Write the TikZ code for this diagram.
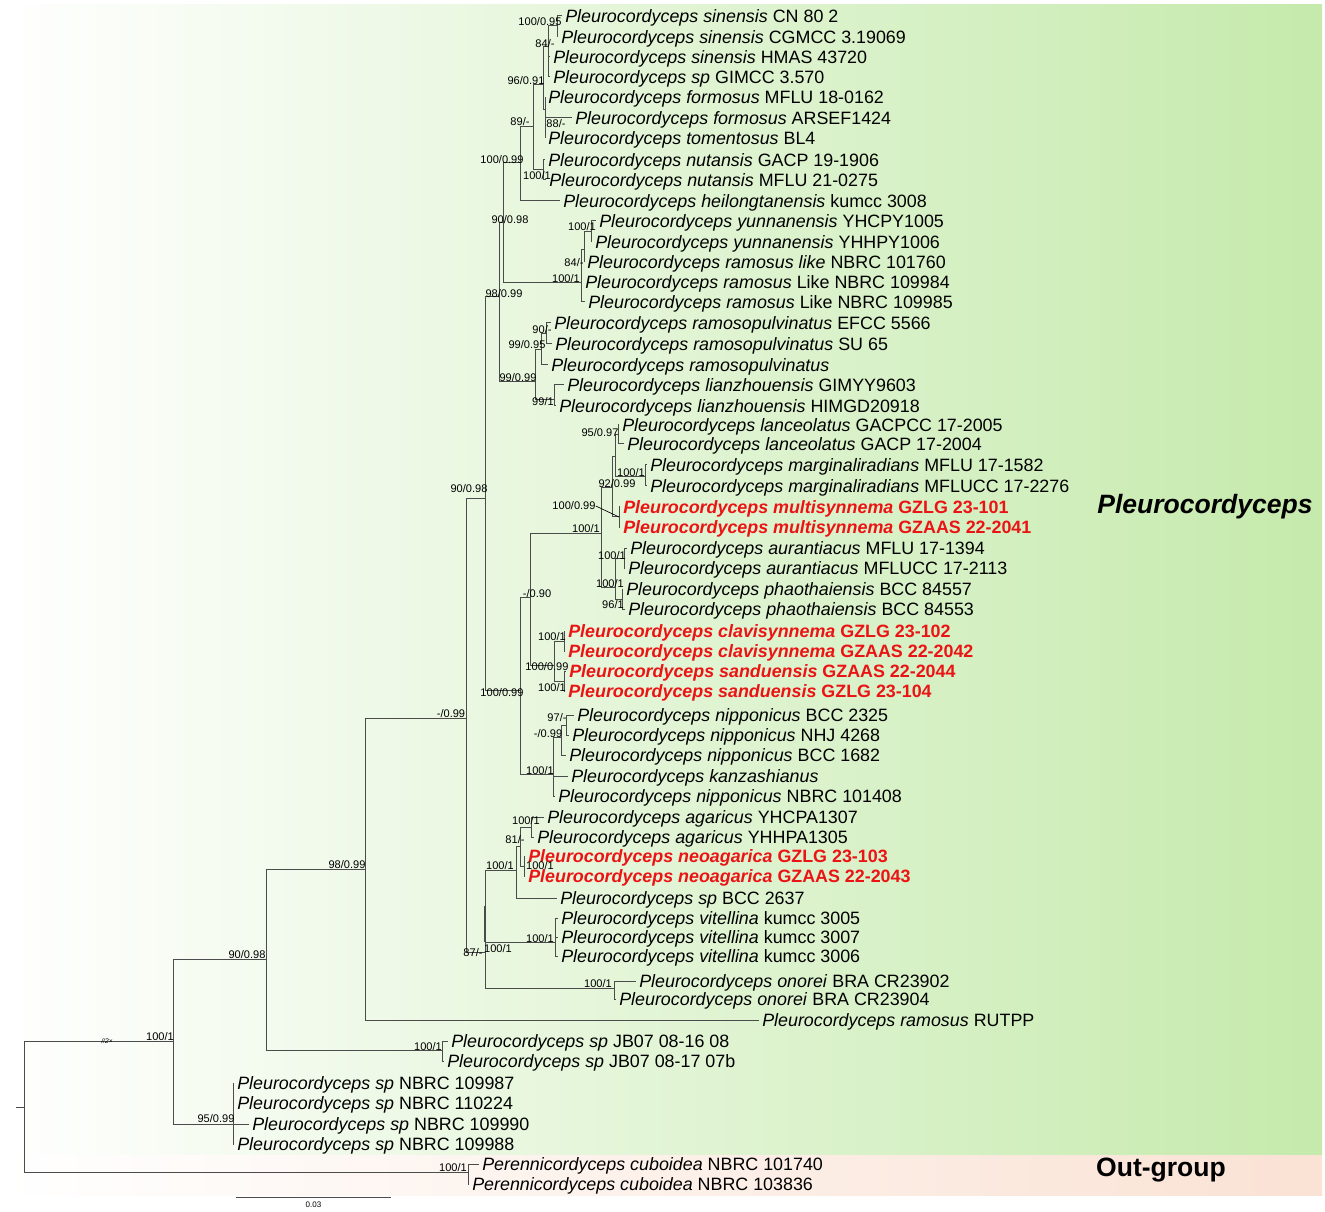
\documentclass[tikz,border=0pt]{standalone}
\usepackage{fontspec}
\setmainfont{Liberation Sans}
\definecolor{pgreen}{RGB}{197,234,172}
\definecolor{ppeach}{RGB}{250,226,212}
\definecolor{newred}{RGB}{235,20,20}
\definecolor{brgray}{RGB}{75,75,75}

\begin{document}
\begin{tikzpicture}[x=0.75pt,y=0.75pt,yscale=-1,xscale=1,
  br/.style={draw=brgray,line width=0.75pt},
  leaf/.style={anchor=west,inner xsep=2.25pt,inner ysep=0pt,text height=12.8pt,text depth=2.8pt,font=\fontsize{13.4}{16}\selectfont},
  newsp/.style={leaf,text=newred,font=\fontsize{13.4}{16}\selectfont\bfseries},
  bs/.style={inner sep=0pt,font=\fontsize{8.3}{9}\selectfont}]
\useasboundingbox (0,0) rectangle (1325,1212);

%Shape: Rectangle (ingroup background)
\shade [left color=white,right color=pgreen] (0,5) rectangle (1322,1155);
%Shape: Rectangle (outgroup background)
\shade [left color=white,right color=ppeach] (0,1155) rectangle (1322,1195);

% internal nodes
\coordinate (r0) at (16,1107);
\coordinate (r) at (24,1107);
\coordinate (nA) at (173,1041);
\coordinate (nNB) at (233,1124);
\coordinate (nB) at (266,959);
\coordinate (nJB) at (442,1050);
\coordinate (nC) at (365,869);
\coordinate (nD) at (466,718);
\coordinate (nE) at (485,499);
\coordinate (nG) at (499,297);
\coordinate (nJ) at (503,223);
\coordinate (nI) at (520,163);
\coordinate (nS) at (533,127);
\coordinate (nT) at (543,85);
\coordinate (nV) at (548,47);
\coordinate (nX) at (557,26);
\coordinate (nW) at (545,110);
\coordinate (nU) at (543,170);
\coordinate (nP) at (581,283);
\coordinate (nQ) at (584,250);
\coordinate (nR) at (591,232);
\coordinate (nK) at (535,382);
\coordinate (nL) at (541,350);
\coordinate (nN) at (546,334);
\coordinate (nM) at (554,400);
\coordinate (nH) at (520,690);
\coordinate (nY) at (530,597);
\coordinate (nAA) at (601,533);
\coordinate (nCC) at (612,488);
\coordinate (nGG) at (615,457);
\coordinate (nDD) at (618,435);
\coordinate (nEE) at (645,477);
\coordinate (nFF) at (619,517);
\coordinate (nII) at (615,587);
\coordinate (nJJ) at (624,558);
\coordinate (nKK) at (622,599);
\coordinate (nBB) at (554,665);
\coordinate (nLL) at (564,641);
\coordinate (nMM) at (564,681);
\coordinate (nZ) at (553,774);
\coordinate (nNN) at (561,737);
\coordinate (nOO) at (566,725);
\coordinate (nF) at (485,952);
\coordinate (nF2) at (485,906);
\coordinate (nPP) at (516,870);
\coordinate (nRR) at (520,846);
\coordinate (nSS) at (531,827);
\coordinate (nTT) at (524,866);
\coordinate (nQQ) at (555,942);
\coordinate (nUU) at (614,988);
\coordinate (nOut) at (468,1172);

% Text Node (leaves)
\draw (562,16) node [leaf] (sinA) {\textit{Pleurocordyceps sinensis} CN 80 2};
\draw (558,37) node [leaf] (sinB) {\textit{Pleurocordyceps sinensis} CGMCC 3.19069};
\draw (550,57) node [leaf] (sinC) {\textit{Pleurocordyceps sinensis} HMAS 43720};
\draw (550,77) node [leaf] (spGIM) {\textit{Pleurocordyceps sp} GIMCC 3.570};
\draw (545,97) node [leaf] (forA) {\textit{Pleurocordyceps formosus} MFLU 18-0162};
\draw (572,118) node [leaf] (forB) {\textit{Pleurocordyceps formosus} ARSEF1424};
\draw (545,138) node [leaf] (tom) {\textit{Pleurocordyceps tomentosus} BL4};
\draw (545,160) node [leaf] (nutA) {\textit{Pleurocordyceps nutansis} GACP 19-1906};
\draw (546,180) node [leaf] (nutB) {\textit{Pleurocordyceps nutansis} MFLU 21-0275};
\draw (560,201) node [leaf] (hei) {\textit{Pleurocordyceps heilongtanensis} kumcc 3008};
\draw (596,221) node [leaf] (yunA) {\textit{Pleurocordyceps yunnanensis} YHCPY1005};
\draw (592,242) node [leaf] (yunB) {\textit{Pleurocordyceps yunnanensis} YHHPY1006};
\draw (584,262) node [leaf] (ramA) {\textit{Pleurocordyceps ramosus like} NBRC 101760};
\draw (582,282) node [leaf] (ramB) {\textit{Pleurocordyceps ramosus} Like NBRC 109984};
\draw (585,302) node [leaf] (ramC) {\textit{Pleurocordyceps ramosus} Like NBRC 109985};
\draw (551,323) node [leaf] (rpA) {\textit{Pleurocordyceps ramosopulvinatus} EFCC 5566};
\draw (552,344) node [leaf] (rpB) {\textit{Pleurocordyceps ramosopulvinatus} SU 65};
\draw (548,365) node [leaf] (rpC) {\textit{Pleurocordyceps ramosopulvinatus}};
\draw (564,385) node [leaf] (lianA) {\textit{Pleurocordyceps lianzhouensis} GIMYY9603};
\draw (556,406) node [leaf] (lianB) {\textit{Pleurocordyceps lianzhouensis} HIMGD20918};
\draw (619,425) node [leaf] (lanA) {\textit{Pleurocordyceps lanceolatus} GACPCC 17-2005};
\draw (624,444) node [leaf] (lanB) {\textit{Pleurocordyceps lanceolatus} GACP 17-2004};
\draw (647,465) node [leaf] (marA) {\textit{Pleurocordyceps marginaliradians} MFLU 17-1582};
\draw (647,486) node [leaf] (marB) {\textit{Pleurocordyceps marginaliradians} MFLUCC 17-2276};
\draw (620,507) node [newsp] (mulA) {\textit{Pleurocordyceps multisynnema} GZLG 23-101};
\draw (620,527) node [newsp] (mulB) {\textit{Pleurocordyceps multisynnema} GZAAS 22-2041};
\draw (627,548) node [leaf] (aurA) {\textit{Pleurocordyceps aurantiacus} MFLU 17-1394};
\draw (625,568) node [leaf] (aurB) {\textit{Pleurocordyceps aurantiacus} MFLUCC 17-2113};
\draw (623,589) node [leaf] (phaA) {\textit{Pleurocordyceps phaothaiensis} BCC 84557};
\draw (625,609) node [leaf] (phaB) {\textit{Pleurocordyceps phaothaiensis} BCC 84553};
\draw (565,631) node [newsp] (claA) {\textit{Pleurocordyceps clavisynnema} GZLG 23-102};
\draw (565,651) node [newsp] (claB) {\textit{Pleurocordyceps clavisynnema} GZAAS 22-2042};
\draw (566,671) node [newsp] (sanA) {\textit{Pleurocordyceps sanduensis} GZAAS 22-2044};
\draw (565,691) node [newsp] (sanB) {\textit{Pleurocordyceps sanduensis} GZLG 23-104};
\draw (574,715) node [leaf] (nipA) {\textit{Pleurocordyceps nipponicus} BCC 2325};
\draw (569,735) node [leaf] (nipB) {\textit{Pleurocordyceps nipponicus} NHJ 4268};
\draw (566,755) node [leaf] (nipC) {\textit{Pleurocordyceps nipponicus} BCC 1682};
\draw (568,776) node [leaf] (kan) {\textit{Pleurocordyceps kanzashianus}};
\draw (555,796) node [leaf] (nipD) {\textit{Pleurocordyceps nipponicus} NBRC 101408};
\draw (544,817) node [leaf] (agaA) {\textit{Pleurocordyceps agaricus} YHCPA1307};
\draw (534,837) node [leaf] (agaB) {\textit{Pleurocordyceps agaricus} YHHPA1305};
\draw (525,856) node [newsp] (neoA) {\textit{Pleurocordyceps neoagarica} GZLG 23-103};
\draw (525,876) node [newsp] (neoB) {\textit{Pleurocordyceps neoagarica} GZAAS 22-2043};
\draw (557,898) node [leaf] (spBCC) {\textit{Pleurocordyceps sp} BCC 2637};
\draw (558,918) node [leaf] (vitA) {\textit{Pleurocordyceps vitellina} kumcc 3005};
\draw (558,937) node [leaf] (vitB) {\textit{Pleurocordyceps vitellina} kumcc 3007};
\draw (558,956) node [leaf] (vitC) {\textit{Pleurocordyceps vitellina} kumcc 3006};
\draw (636,981) node [leaf] (onoA) {\textit{Pleurocordyceps onorei} BRA CR23902};
\draw (616,999) node [leaf] (onoB) {\textit{Pleurocordyceps onorei} BRA CR23904};
\draw (759,1020) node [leaf] (ramRU) {\textit{Pleurocordyceps ramosus} RUTPP};
\draw (448,1041) node [leaf] (jbA) {\textit{Pleurocordyceps sp} JB07 08-16 08};
\draw (444,1061) node [leaf] (jbB) {\textit{Pleurocordyceps sp} JB07 08-17 07b};
\draw (234,1083) node [leaf] (nbA) {\textit{Pleurocordyceps sp} NBRC 109987};
\draw (234,1103) node [leaf] (nbB) {\textit{Pleurocordyceps sp} NBRC 110224};
\draw (249,1124) node [leaf] (nbC) {\textit{Pleurocordyceps sp} NBRC 109990};
\draw (234,1144) node [leaf] (nbD) {\textit{Pleurocordyceps sp} NBRC 109988};
\draw (479,1164) node [leaf] (perA) {\textit{Perennicordyceps cuboidea} NBRC 101740};
\draw (469,1184) node [leaf] (perB) {\textit{Perennicordyceps cuboidea} NBRC 103836};

% branches
\draw [br] (r0) -- (r) (r) |- (nA) (r) |- (nOut);
\draw [br] (nA) |- (nB) (nA) |- (nNB);
\draw [br] (nNB) |- (nbA.west) (nNB) |- (nbB.west) (nNB) |- (nbC.west) (nNB) |- (nbD.west);
\draw [br] (nB) |- (nC) (nB) |- (nJB);
\draw [br] (nJB) |- (jbA.west) (nJB) |- (jbB.west);
\draw [br] (nC) |- (nD) (nC) |- (ramRU.west);
\draw [br] (nD) |- (nE) (nD) |- (nF);
\draw [br] (nE) |- (nG) (nE) |- (nH);
\draw [br] (nG) |- (nJ) (nG) |- (nK);
\draw [br] (nJ) |- (nI) (nJ) |- (nP);
\draw [br] (nI) |- (nS) (nI) |- (hei.west);
\draw [br] (nS) |- (nT) (nS) |- (nU);
\draw [br] (nT) |- (nV) (nT) |- (nW);
\draw [br] (nV) |- (nX) (nV) |- (sinC.west) (nV) |- (spGIM.west);
\draw [br] (nX) |- (sinA.west) (nX) |- (sinB.west);
\draw [br] (nW) |- (forA.west) (nW) |- (forB.west) (nW) |- (tom.west);
\draw [br] (nU) |- (nutA.west) (nU) |- (nutB.west);
\draw [br] (nP) |- (nQ) (nP) |- (ramB.west) (nP) |- (ramC.west);
\draw [br] (nQ) |- (nR) (nQ) |- (ramA.west);
\draw [br] (nR) |- (yunA.west) (nR) |- (yunB.west);
\draw [br] (nK) |- (nL) (nK) |- (nM);
\draw [br] (nL) |- (nN) (nL) |- (rpC.west);
\draw [br] (nN) |- (rpA.west) (nN) |- (rpB.west);
\draw [br] (nM) |- (lianA.west) (nM) |- (lianB.west);
\draw [br] (nH) |- (nY) (nH) |- (nZ);
\draw [br] (nY) |- (nAA) (nY) |- (nBB);
\draw [br] (nAA) |- (nCC) (nAA) |- (nII);
\draw [br] (nCC) |- (nGG) (nCC) |- (nFF);
\draw [br] (nGG) |- (nDD) (nGG) |- (nEE);
\draw [br] (nDD) |- (lanA.west) (nDD) |- (lanB.west);
\draw [br] (nEE) |- (marA.west) (nEE) |- (marB.west);
\draw [br] (nFF) |- (mulA.west) (nFF) |- (mulB.west);
\draw [br] (nII) |- (nJJ) (nII) |- (nKK);
\draw [br] (nJJ) |- (aurA.west) (nJJ) |- (aurB.west);
\draw [br] (nKK) |- (phaA.west) (nKK) |- (phaB.west);
\draw [br] (nBB) |- (nLL) (nBB) |- (nMM);
\draw [br] (nLL) |- (claA.west) (nLL) |- (claB.west);
\draw [br] (nMM) |- (sanA.west) (nMM) |- (sanB.west);
\draw [br] (nZ) |- (nNN) (nZ) |- (kan.west) (nZ) |- (nipD.west);
\draw [br] (nNN) |- (nOO) (nNN) |- (nipC.west);
\draw [br] (nOO) |- (nipA.west) (nOO) |- (nipB.west);
\draw [br] (nF) |- (nPP) (nF) |- (nQQ) (nF) |- (nUU);
\draw [br,line width=1.4pt] (nF2) -- (nF |- nQQ);
\draw [br] (nPP) |- (nRR) (nPP) |- (spBCC.west);
\draw [br] (nRR) |- (nSS) (nRR) |- (nTT);
\draw [br] (nSS) |- (agaA.west) (nSS) |- (agaB.west);
\draw [br] (nTT) |- (neoA.west) (nTT) |- (neoB.west);
\draw [br] (nQQ) |- (vitA.west) (nQQ) |- (vitB.west) (nQQ) |- (vitC.west);
\draw [br] (nUU) |- (onoA.west) (nUU) |- (onoB.west);
\draw [br] (nOut) |- (perA.west) (nOut) |- (perB.west);

% Text Node (support values)
\draw (107,1041) node [inner sep=0pt,font=\fontsize{5}{6}\selectfont\itshape] (brk) {//2×};
\draw (160,1037) node [bs] (bA) {100/1};
\draw (247,955) node [bs] (bB) {90/0.98};
\draw (347,865) node [bs] (bC) {98/0.99};
\draw (216,1119) node [bs] (bNB) {95/0.99};
\draw (428,1047) node [bs] (bJB) {100/1};
\draw (451,714) node [bs] (bD) {-/0.99};
\draw (469,489) node [bs] (bE) {90/0.98};
\draw (504,294) node [bs] (bG) {98/0.99};
\draw (510,220) node [bs] (bJ) {90/0.98};
\draw (502,160) node [bs] (bI) {100/0.99};
\draw (520,122) node [bs] (bS) {89/-};
\draw (526,81) node [bs] (bT) {96/0.91};
\draw (545,44) node [bs] (bV) {84/-};
\draw (540,22) node [bs] (bX) {100/0.95};
\draw (556,124) node [bs] (bW) {88/-};
\draw (537,176) node [bs] (bU) {100/1};
\draw (566,279) node [bs] (bP) {100/1};
\draw (574,263) node [bs] (bQ) {84/-};
\draw (582,227) node [bs] (bR) {100/1};
\draw (518,378) node [bs] (bK) {99/0.99};
\draw (527,345) node [bs] (bL) {99/0.95};
\draw (542,330) node [bs] (bN) {90/-};
\draw (543,402) node [bs] (bM) {99/1};
\draw (502,693) node [bs] (bH) {100/0.99};
\draw (537,594) node [bs] (bY) {-/0.90};
\draw (586,529) node [bs] (bAA) {100/1};
\draw (617,484) node [bs] (bCC) {92/0.99};
\draw (600,433) node [bs] (bDD) {95/0.97};
\draw (631,473) node [bs] (bEE) {100/1};
\draw (574,506) node [bs] (bFF) {100/0.99};
\draw (610,584) node [bs] (bII) {100/1};
\draw (612,556) node [bs] (bJJ) {100/1};
\draw (613,605) node [bs] (bKK) {96/1};
\draw (547,667) node [bs] (bBB) {100/0.99};
\draw (552,637) node [bs] (bLL) {100/1};
\draw (552,688) node [bs] (bMM) {100/1};
\draw (540,771) node [bs] (bZ) {100/1};
\draw (548,734) node [bs] (bNN) {-/0.99};
\draw (557,718) node [bs] (bOO) {97/-};
\draw (473,953) node [bs] (bF) {87/-};
\draw (498,949) node [bs] (bF2) {100/1};
\draw (500,866) node [bs] (bPP) {100/1};
\draw (515,840) node [bs] (bRR) {81/-};
\draw (526,821) node [bs] (bSS) {100/1};
\draw (540,866) node [bs] (bTT) {100/1};
\draw (540,939) node [bs] (bQQ) {100/1};
\draw (598,984) node [bs] (bUU) {100/1};
\draw (453,1168) node [bs] (bOut) {100/1};
\draw [br,line width=0.5pt,draw=black] (bFF.east) -- (nFF);

% clade labels
\draw (1205,507) node [font=\fontsize{19.9}{24}\selectfont\bfseries\itshape] (cladeP) {Pleurocordyceps};
\draw (1161,1170) node [font=\fontsize{19.9}{24}\selectfont\bfseries] (cladeO) {Out-group};

% scale bar
\coordinate (sbA) at (236,1197);
\coordinate (sbB) at (391,1197);
\draw [br] (sbA) -- (sbB);
\draw (313.5,1205) node [inner sep=0pt,font=\fontsize{6}{7}\selectfont] (sbl) {0.03};

\end{tikzpicture}
\end{document}
